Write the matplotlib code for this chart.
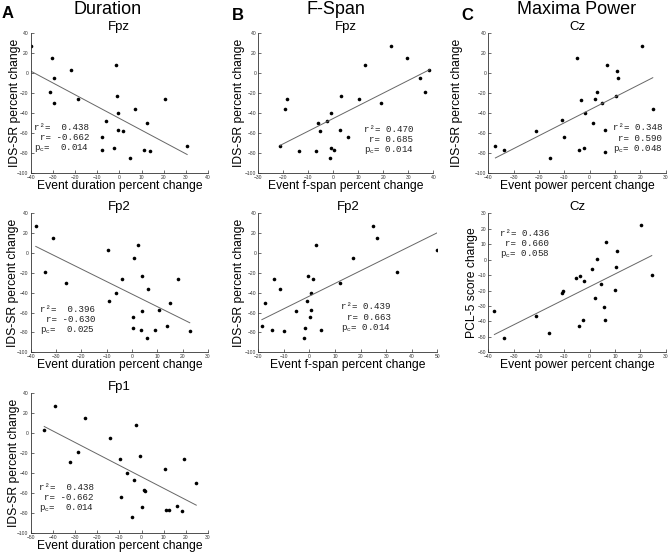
import numpy as np
import matplotlib
matplotlib.use("Agg")
import matplotlib.pyplot as plt

plt.rcParams['font.family'] = ['Liberation Sans', 'DejaVu Sans']
plt.rcParams['mathtext.fontset'] = 'custom'
plt.rcParams['mathtext.rm'] = 'Liberation Mono'
plt.rcParams['mathtext.it'] = 'Liberation Mono'

# ---------------- Data ---------------- #
dur_fpz_x = [-40.0, -30.2, -21.8, -29.3, -31.3, -29.5, -18.8, -1.4, -1.1, -0.7, 7.1, 20.8,
             -6.1, -0.4, 1.7, 12.6, -8.0, -7.9, -2.3, 4.6, 11.2, 13.9, 30.6]
dur_fpz_y = [26.9, 15.2, 2.8, -4.9, -19.3, -29.7, -26.3, 7.9, -22.6, -40.4, -36.0, -26.0,
             -47.7, -56.8, -58.5, -50.1, -64.2, -76.9, -74.9, -84.9, -77.5, -77.9, -72.9]

dur_fp2_x = [-38.0, -31.1, -34.5, -26.2, -9.5, 2.3, 0.7, 4.0, -4.0, 6.4, -6.5, 18.1,
             -9.1, 14.8, 10.8, 4.1, 0.2, 0.3, 3.6, 5.8, 9.0, 13.7, 22.8]
dur_fp2_y = [27.2, 15.2, -19.4, -29.8, 2.7, 7.8, -5.0, -22.8, -26.5, -36.2, -40.2, -26.1,
             -47.9, -50.3, -57.0, -58.7, -64.7, -75.5, -77.2, -85.2, -77.8, -73.1, -78.5]

dur_fp1_x = [-43.9, -39.0, -25.5, -14.0, -28.7, -32.3, -9.8, -2.6, -0.5, -6.6, 10.6, 19.2,
             -3.3, 1.3, 1.5, 24.7, -9.3, 0.0, -4.4, 11.2, 12.3, 16.2, 18.2]
dur_fp1_y = [2.8, 27.3, 15.6, -4.9, -18.9, -29.3, -26.0, 8.2, -22.5, -40.0, -35.7, -25.7,
             -47.4, -56.8, -58.1, -49.8, -64.2, -74.5, -84.2, -77.2, -76.9, -72.9, -77.9]

span_fpz_x = [-21.3, -18.4, -19.5, -13.7, -7.1, -6.0, -5.5, -2.5, -1.1, -0.9, 0.3, -1.2,
              2.9, 2.8, 6.0, 10.1, 12.8, 19.2, 22.9, 29.3, 34.5, 36.8, 38.4]
span_fpz_y = [-72.9, -26.0, -36.0, -77.9, -78.2, -50.1, -58.5, -47.7, -40.4, -74.9, -77.2, -84.9,
              -22.6, -56.8, -64.2, -26.3, 7.9, -29.7, 26.9, 15.2, -4.9, -19.3, 2.8]

span_fp2_x = [-18.6, -17.3, -14.0, -11.4, -14.7, -10.0, -5.3, -1.0, -0.6, 0.4, 1.3, 0.8,
              -1.8, -2.1, 0.6, 2.7, 4.6, 11.8, 17.0, 24.7, 26.5, 34.4, 50.0]
span_fp2_y = [-73.1, -50.3, -25.8, -36.2, -77.8, -78.5, -58.7, -47.9, -22.8, -64.7, -26.1, -40.2,
              -75.5, -85.2, -57.0, 7.8, -77.2, -29.8, -5.0, 27.2, 15.2, -19.4, 2.7]

power_cz_x = [-37.2, -33.7, -21.1, -15.7, -10.8, -10.0, -5.1, -4.1, -3.3, -2.1, -1.8, 1.2,
              2.2, 3.0, 4.7, 5.9, 6.2, 7.0, 10.4, 10.8, 11.2, 20.5, 24.9]
power_cz_y = [-72.9, -77.2, -58.5, -84.9, -47.3, -64.1, 14.9, -77.5, -26.7, -74.9, -40.3, -50.1,
              -26.0, -19.2, -29.7, -57.1, -79.2, 7.9, -22.6, 2.5, -4.9, 27.2, -36.1]

pcl_cz_x = [-37.6, -33.9, -21.3, -16.2, -11.1, -10.4, -5.4, -3.7, -2.2, -4.3, -2.6, 0.9,
            2.8, 2.0, 4.6, 5.7, 6.1, 6.6, 10.1, 10.5, 10.8, 20.3, 24.5]
pcl_cz_y = [-33.0, -50.9, -36.5, -47.8, -21.7, -20.0, -11.7, -10.9, -13.7, -42.8, -38.9, -5.9,
            0.2, -24.8, -15.9, -30.9, -38.9, 11.3, -19.8, -4.8, 5.4, 22.4, -9.8]

# stats text shown on each panel
stats_dur_fpz = ["r²=  0.438", "r= -0.662", "p$_c$=  0.014"]
stats_dur_fp2 = ["r²=  0.396", "r= -0.630", "p$_c$=  0.025"]
stats_dur_fp1 = ["r²=  0.438", "r= -0.662", "p$_c$=  0.014"]
stats_span_fpz = ["r²= 0.470", "r= 0.685", "p$_c$= 0.014"]
stats_span_fp2 = ["r²= 0.439", "r= 0.663", "p$_c$= 0.014"]
stats_power_cz = ["r²= 0.348", "r= 0.590", "p$_c$= 0.048"]
stats_pcl_cz = ["r²= 0.436", "r= 0.660", "p$_c$= 0.058"]

W, H = 671, 556
fig = plt.figure(figsize=(W / 100, H / 100), dpi=100)


def make_ax(l, t, r, b):
    return fig.add_axes([l / W, 1 - b / H, (r - l) / W, (b - t) / H])


def scatter_panel(box, x, y, title, xlabel, ylabel, xlim, ylim, ystep, stats, stats_pos, ylab_x):
    ax = make_ax(*box)
    x = np.array(x)
    y = np.array(y)
    ax.plot(x, y, 'o', color='black', ms=2.6, mec='none')
    slope, icpt = np.polyfit(x, y, 1)
    xs = np.array([x.min(), x.max()])
    ax.plot(xs, slope * xs + icpt, '-', color='#666666', lw=0.7)

    ax.set_xlim(xlim)
    ax.set_ylim(ylim)
    ax.set_xticks(np.arange(xlim[0], xlim[1] + 1, 10))
    ax.set_yticks(np.arange(ylim[0], ylim[1] + 1, ystep))
    for s in ['top', 'right']:
        ax.spines[s].set_visible(False)
    for s in ['left', 'bottom']:
        ax.spines[s].set_linewidth(0.6)
        ax.spines[s].set_color('#333333')
    ax.tick_params(direction='in', length=2, width=0.5, labelsize=3.6,
                   colors='#333333', pad=1.5)

    ax.set_title(title, fontsize=9.5, pad=2)
    ax.set_xlabel(xlabel, fontsize=8.7)
    ax.set_ylabel(ylabel, fontsize=8.7)
    ax.xaxis.set_label_coords(0.5, -0.05)
    ax.yaxis.set_label_coords(ylab_x, 0.5)

    sx, sy = stats_pos
    for i, line in enumerate(stats):
        ax.text(sx, sy - i * 0.076, line, transform=ax.transAxes, ha='right', va='center',
                fontsize=6.6, family='Liberation Mono', color='#222222')
    return ax


dur_label = "Event duration percent change"
span_label = "Event f-span percent change"
pow_label = "Event power percent change"
ids_label = "IDS-SR percent change"

scatter_panel((30.7, 33.3, 208, 172.7), dur_fpz_x, dur_fpz_y, "Fpz", dur_label, ids_label,
              (-40, 40), (-100, 40), 20, stats_dur_fpz, (0.329, 0.326), -0.055)
scatter_panel((30.7, 213.3, 208, 352.3), dur_fp2_x, dur_fp2_y, "Fp2", dur_label, ids_label,
              (-40, 30), (-100, 40), 20, stats_dur_fp2, (0.363, 0.311), -0.066)
scatter_panel((30.7, 393.3, 208, 532.7), dur_fp1_x, dur_fp1_y, "Fp1", dur_label, ids_label,
              (-50, 30), (-100, 40), 20, stats_dur_fp1, (0.357, 0.326), -0.06)
scatter_panel((258.3, 33.3, 433.3, 172.7), span_fpz_x, span_fpz_y, "Fpz", span_label, ids_label,
              (-30, 40), (-100, 40), 20, stats_span_fpz, (0.886, 0.313), -0.076)
scatter_panel((258.3, 213.3, 437.3, 352.3), span_fp2_x, span_fp2_y, "Fp2", span_label, ids_label,
              (-20, 50), (-100, 40), 20, stats_span_fp2, (0.740, 0.328), -0.074)
scatter_panel((488.3, 33.3, 665.7, 172.7), power_cz_x, power_cz_y, "Cz", pow_label, ids_label,
              (-40, 30), (-100, 40), 20, stats_power_cz, (0.981, 0.323), -0.143)
scatter_panel((488.3, 213.3, 665.7, 352.3), pcl_cz_x, pcl_cz_y, "Cz", pow_label, "PCL-5 score change",
              (-40, 30), (-60, 30), 10, stats_pcl_cz, (0.344, 0.856), -0.058)

# column headers and panel letters
for letter, head, lx, ly, hx in [("A", "Duration", 2, 14, 108), ("B", "F-Span", 232, 16, 336),
                                 ("C", "Maxima Power", 461, 15, 577)]:
    fig.text(lx / W, 1 - ly / H, letter, fontsize=12, fontweight='bold', ha='left', va='center')
    fig.text(hx / W, 1 - 10 / H, head, fontsize=13, ha='center', va='center')

fig.savefig("out.png", dpi=100)
